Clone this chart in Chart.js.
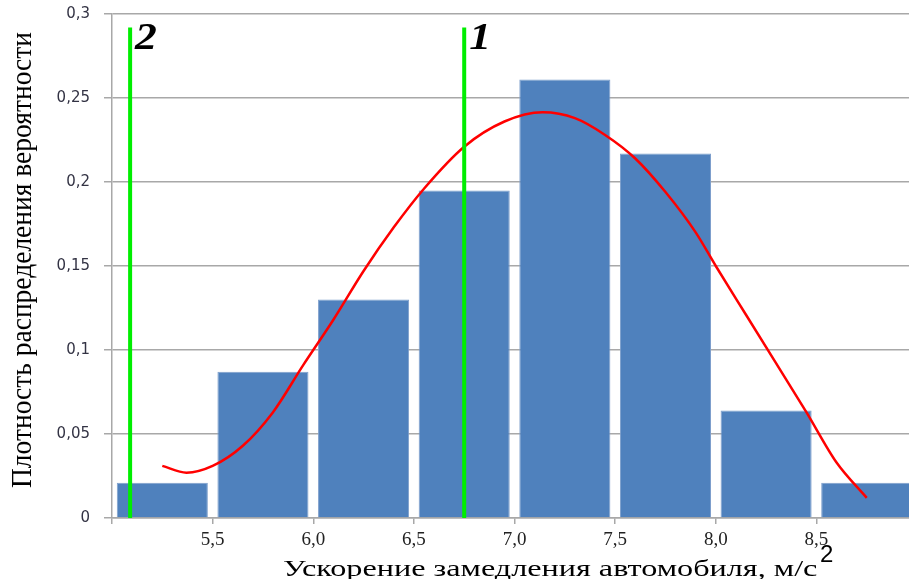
<!DOCTYPE html>
<html>
<head>
<meta charset="utf-8">
<script src="https://cdn.jsdelivr.net/npm/chart.js@4.4.1/dist/chart.umd.min.js"></script>
<style>
    html, body { margin: 0; padding: 0; background: #fff; }
    #wrap { width: 909px; height: 579px; position: relative; }
</style>
</head>
<body>
<div id="wrap"><canvas id="densityChart"></canvas></div>
<script>
// histogram bins (centres) and their density
const binCenters = [5.25, 5.75, 6.25, 6.75, 7.25, 7.75, 8.25, 8.75];
const densities = [0.021, 0.087, 0.130, 0.195, 0.261, 0.217, 0.064, 0.021];

// fitted curve
const curveX = [5.25, 5.37, 5.50, 5.65, 5.80, 5.95, 6.10, 6.25, 6.40, 6.55, 6.75, 6.95, 7.14, 7.30, 7.45, 7.60, 7.75, 7.90, 8.00, 8.15, 8.30, 8.45, 8.60, 8.75];
const curveY = [0.031, 0.027, 0.031, 0.043, 0.063, 0.091, 0.118, 0.147, 0.173, 0.196, 0.221, 0.236, 0.2415, 0.238, 0.228, 0.214, 0.194, 0.170, 0.150, 0.121, 0.092, 0.063, 0.033, 0.012];

// vertical green markers
const markerX = [6.75, 5.09];
const markerLabels = ['1', '2'];
const markerTop = 0.292;

const xTickValues = [5.0, 5.5, 6.0, 6.5, 7.0, 7.5, 8.0, 8.5];
const xTitle = 'Ускорение замедления автомобиля, м/с';
const xTitleSup = '2';
const yTitle = 'Плотность распределения вероятности';

function comma(v) {
    return String(v).replace('.', ',');
}

// titles and marker numbers are drawn by hand (stretched like the original)
const textPlugin = {
    id: 'textPlugin',
    afterDraw(chart) {
        const c = chart.ctx;
        const x = chart.scales.x;
        const y = chart.scales.y;

        c.save();
        c.fillStyle = '#000';
        c.font = '27.5px "Liberation Serif"';
        c.textAlign = 'center';
        c.textBaseline = 'middle';
        c.translate(23, 260);
        c.rotate(-Math.PI / 2);
        c.scale(1, 1.1);
        c.fillText(yTitle, 0, 0);
        c.restore();

        c.save();
        c.fillStyle = '#000';
        c.font = '23px "Liberation Serif"';
        c.textAlign = 'left';
        c.textBaseline = 'alphabetic';
        c.translate(283, 576);
        c.scale(1.4, 1);
        c.fillText(xTitle, 0, 0);
        c.restore();

        c.save();
        c.fillStyle = '#000';
        c.font = '24px "Liberation Sans"';
        c.textAlign = 'left';
        c.textBaseline = 'alphabetic';
        c.fillText(xTitleSup, 820, 562);
        c.restore();

        markerX.forEach(function(v, i) {
            c.save();
            c.fillStyle = '#000';
            c.font = 'italic bold 38px "Liberation Serif"';
            c.textAlign = 'left';
            c.textBaseline = 'alphabetic';
            c.translate(x.getPixelForValue(v) + 5, y.getPixelForValue(markerTop) + 22);
            c.scale(1.15, 1);
            c.fillText(markerLabels[i], 0, 0);
            c.restore();
        });
    }
};

const gridGray = '#a8a8a8';

const markerSets = markerX.map(function(v) {
    return {
        type: 'line',
        data: [{ x: v, y: 0 }, { x: v, y: markerTop }],
        borderColor: '#00ee00',
        borderWidth: 4,
        pointRadius: 0,
        order: 0
    };
});

new Chart(document.getElementById('densityChart'), {
    type: 'bar',
    data: {
        datasets: [
            ...markerSets,
            {
                type: 'line',
                data: curveX.map((v, i) => ({ x: v, y: curveY[i] })),
                borderColor: '#ff0000',
                borderWidth: 2.5,
                pointRadius: 0,
                cubicInterpolationMode: 'monotone',
                order: 1
            },
            {
                type: 'bar',
                data: binCenters.map((v, i) => ({ x: v, y: densities[i] })),
                backgroundColor: '#4f81bd',
                borderColor: '#7e9fcc',
                borderWidth: 1,
                categoryPercentage: 1.0,
                barPercentage: 0.905,
                order: 2
            }
        ]
    },
    options: {
        responsive: true,
        maintainAspectRatio: false,
        animation: false,
        layout: { padding: { top: 14, right: 0, left: 0, bottom: 0 } },
        plugins: {
            legend: { display: false },
            tooltip: { enabled: false }
        },
        scales: {
            x: {
                type: 'linear',
                min: 5.0,
                max: 8.96,
                offset: false,
                afterBuildTicks: function(scale) {
                    scale.ticks = xTickValues.map(v => ({ value: v }));
                },
                afterFit: function(scale) { scale.height = 61; },
                ticks: {
                    autoSkip: false,
                    maxRotation: 0,
                    padding: 5,
                    color: '#222',
                    font: { family: 'Liberation Serif', size: 19 },
                    callback: function(v) {
                        return v === 5 ? '' : comma(v.toFixed(1));
                    }
                },
                grid: {
                    offset: false,
                    drawOnChartArea: false,
                    drawTicks: true,
                    tickLength: 6,
                    color: gridGray,
                    lineWidth: 1.5
                },
                border: { display: true, color: gridGray, width: 1.5 }
            },
            y: {
                min: 0,
                max: 0.3,
                afterFit: function(scale) {
                    scale.width = 112;
                    scale.paddingTop = 0;
                    scale.paddingBottom = 0;
                },
                ticks: {
                    stepSize: 0.05,
                    padding: 14,
                    color: '#333344',
                    font: { family: 'DejaVu Sans', size: 15 },
                    callback: function(v) {
                        return comma(+v.toFixed(2));
                    }
                },
                grid: {
                    color: gridGray,
                    lineWidth: 1.5,
                    tickLength: 8
                },
                border: { display: true, color: gridGray, width: 1.5 }
            }
        }
    },
    plugins: [textPlugin]
});
</script>
</body>
</html>
